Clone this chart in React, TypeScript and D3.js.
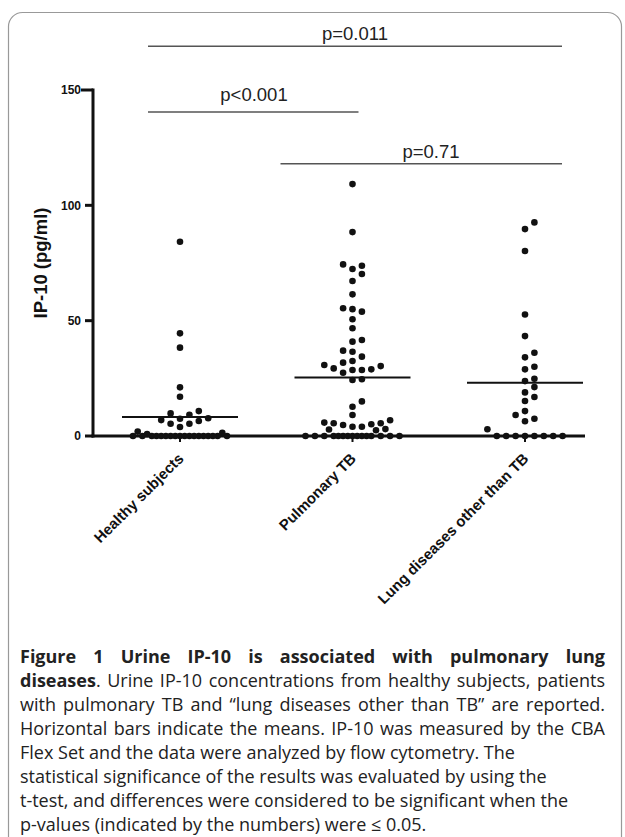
import React, { useMemo } from 'react';
import * as d3 from 'd3';

const categories = ['Healthy subjects', 'Pulmonary TB', 'Lung diseases other than TB'];

const healthyValues = [
  84.2, 44.5, 38.3, 21.1, 17.0, 10.8, 9.8, 9.2, 7.7, 7.5, 6.9, 6.5, 5.3, 5.3, 3.9, 1.9, 1.4, 0.8,
  0, 0, 0, 0, 0, 0, 0, 0, 0, 0, 0, 0, 0, 0, 0, 0, 0, 0,
];

const pulmonaryValues = [
  109.2, 88.4, 74.4, 73.8, 72.4, 70.2, 67.2, 61.4, 55.4, 55.0, 53.9, 50.6, 46.7, 41.6, 40.9,
  37.0, 36.5, 34.4, 32.5, 31.8, 30.8, 30.3, 29.3, 28.9, 28.6, 28.6, 27.4, 24.6, 24.3,
  15.0, 12.7, 9.1, 6.8, 5.8, 5.5, 5.5, 5.1, 4.8, 4.0, 4.0, 3.0, 2.8, 2.5,
  0, 0, 0, 0, 0, 0, 0, 0, 0, 0, 0, 0, 0, 0, 0,
];

const lungValues = [
  92.6, 89.7, 80.2, 52.7, 43.3, 36.1, 34.1, 30.0, 28.9, 24.8, 23.8, 21.2, 18.9, 16.9, 15.2,
  10.8, 9.1, 7.5, 6.4, 2.9,
  0, 0, 0, 0, 0, 0, 0, 0,
];

const groupValues = [healthyValues, pulmonaryValues, lungValues];
const meanValues = [8.2, 25.4, 23.1];
const yTicks = [0, 50, 100, 150];

const comparisonLabels = ['p=0.011', 'p<0.001', 'p=0.71'];
const comparisonLevels = [169, 140.5, 118];

const captionLines = [
  [{ t: 'Figure 1 Urine IP-10 is associated with pulmonary lung', b: true }],
  [{ t: 'diseases', b: true }, { t: '. Urine IP-10 concentrations from healthy subjects, patients', b: false }],
  [{ t: 'with pulmonary TB and \u201Clung diseases other than TB\u201D are reported.', b: false }],
  [{ t: 'Horizontal bars indicate the means. IP-10 was measured by the CBA', b: false }],
  [{ t: 'Flex Set and the data were analyzed by flow cytometry. The', b: false }],
  [{ t: 'statistical significance of the results was evaluated by using the', b: false }],
  [{ t: 't-test, and differences were considered to be significant when the', b: false }],
  [{ t: 'p-values (indicated by the numbers) were \u2264 0.05.', b: false }],
];

const FONT = '"Liberation Sans", Arial, sans-serif';
const CAP_FONT = '"Open Sans", sans-serif';
const CAP_SIZE = 18;

// simple grid swarm: lower values first, nearest free slot, half slots once the row is full
function swarm(values: number[], y: (v: number) => number, step: number, minDy: number, maxSlot: number) {
  const order: number[] = [0];
  for (let k = 1; k <= maxSlot; k++) order.push(k, -k);
  for (let k = 0; k < maxSlot; k++) order.push(k + 0.5, -(k + 0.5));
  const placed: { slot: number; py: number; v: number }[] = [];
  [...values].sort((a, b) => a - b).forEach(v => {
    const py = y(v);
    let slot = order.find(s => !placed.some(q => q.slot === s && Math.abs(q.py - py) < minDy));
    if (slot === undefined) slot = 0;
    placed.push({ slot, py, v });
  });
  return placed.map(p => ({ dx: p.slot * step, py: p.py, v: p.v }));
}

function Caption({ left, right, top, lh }) {
  const widths = useMemo(() => {
    const ctx = document.createElement('canvas').getContext('2d');
    return captionLines.map(line => {
      let w = 0;
      let spaces = 0;
      line.forEach(seg => {
        ctx.font = `${seg.b ? 'bold ' : ''}${CAP_SIZE}px ${CAP_FONT}`;
        w += ctx.measureText(seg.t).width;
        spaces += (seg.t.match(/ /g) || []).length;
      });
      return { w, spaces };
    });
  }, []);
  return (
    <g>
      {captionLines.map((line, i) => {
        const { w, spaces } = widths[i];
        const ws = i < 4 && spaces > 0 ? (right - left - w) / spaces : 0;
        return (
          <text key={i} x={left} y={top + i * lh} fontFamily={CAP_FONT} fontSize={CAP_SIZE} fill="#222"
            style={{ wordSpacing: `${ws}px` }}>
            {line.map((seg, j) => (
              <tspan key={j} fontWeight={seg.b ? 'bold' : 'normal'}>{seg.t}</tspan>
            ))}
          </text>
        );
      })}
    </g>
  );
}

export default function App() {
  const width = 625;
  const height = 837;

  const x = d3.scalePoint<string>().domain(categories).range([180, 525]);
  const y = d3.scaleLinear().domain([0, 150]).range([436, 90]);

  const axisLeft = 93;
  const axisRight = 585;
  const meanHalf = 58;

  const swarms = groupValues.map(vals => swarm(vals, y, 9.4, 8, 5));

  // significance bars: [from, to] in pixels around the category centres
  const c = categories.map(d => x(d) as number);
  const bars = [
    [c[0] - 32, c[2] + 37],
    [c[0] - 32, c[1] + 6],
    [c[1] - 72, c[2] + 37],
  ];
  const labelX = [355, 254, 431];

  return (
    <svg width={width} height={height} style={{ position: 'absolute', left: 0, top: 0, background: '#fff' }}>
      <rect x={8.5} y={12.5} width={613} height={900} rx={14} fill="none" stroke="#999" strokeWidth={1.2} />

      {/* significance */}
      {bars.map((b, i) => (
        <g key={i}>
          <line x1={b[0]} x2={b[1]} y1={y(comparisonLevels[i])} y2={y(comparisonLevels[i])} stroke="#555" strokeWidth={1.5} />
          <text x={labelX[i]} y={y(comparisonLevels[i]) - (i === 1 ? 11 : 6)} textAnchor="middle"
            fontFamily={FONT} fontSize={18.5} fill="#222">{comparisonLabels[i]}</text>
        </g>
      ))}

      {/* y axis */}
      <line x1={axisLeft} x2={axisLeft} y1={y(0) + 1.5} y2={y(150) - 1.5} stroke="#111" strokeWidth={3} />
      {yTicks.map(t => (
        <g key={t}>
          <line x1={t === 150 ? axisLeft - 12 : axisLeft - 8} x2={axisLeft} y1={y(t)} y2={y(t)} stroke="#111" strokeWidth={3} />
          <text x={axisLeft - 12} y={y(t)} dy="0.35em" textAnchor="end" fontFamily={FONT} fontSize={12}
            fontWeight="bold" fill="#111">{t}</text>
        </g>
      ))}
      <text transform={`translate(47,${(y(0) + y(150)) / 2}) rotate(-90)`} textAnchor="middle"
        fontFamily={FONT} fontSize={18.5} fontWeight="bold" fill="#111">IP-10 (pg/ml)</text>

      {/* x axis */}
      <line x1={axisLeft - 1.5} x2={axisRight} y1={y(0)} y2={y(0)} stroke="#111" strokeWidth={3} />
      {categories.map(cat => (
        <g key={cat}>
          <line x1={x(cat)} x2={x(cat)} y1={y(0)} y2={y(0) + 6} stroke="#111" strokeWidth={2} />
          <text transform={`translate(${(x(cat) as number) - 3},${y(0) + 16}) rotate(-45)`} dy="0.71em"
            textAnchor="end" fontFamily={FONT} fontSize={15} fontWeight="bold" fill="#111">{cat}</text>
        </g>
      ))}

      {/* dots */}
      {swarms.map((pts, gi) => (
        <g key={gi}>
          {pts.map((p, i) => (
            <circle key={i} cx={c[gi] + p.dx} cy={p.py} r={3.3} fill="#111" />
          ))}
        </g>
      ))}

      {/* means */}
      {meanValues.map((m, i) => (
        <line key={i} x1={c[i] - meanHalf} x2={c[i] + meanHalf} y1={y(m)} y2={y(m)} stroke="#111" strokeWidth={2} />
      ))}

      <Caption left={20} right={605} top={663} lh={24} />
    </svg>
  );
}
